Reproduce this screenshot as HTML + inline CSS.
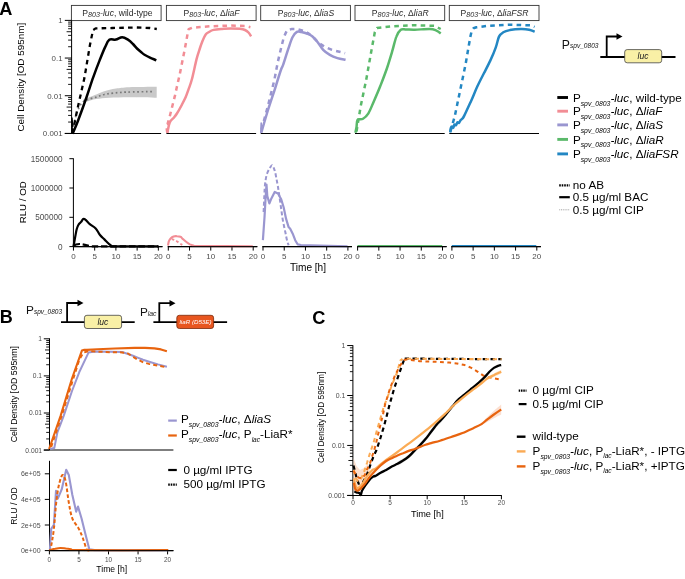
<!DOCTYPE html>
<html><head><meta charset="utf-8"><style>
html,body{margin:0;padding:0;background:#fff;width:685px;height:579px;overflow:hidden}
svg{display:block;font-family:"Liberation Sans", sans-serif;will-change:transform}
</style></head><body>
<svg width="685" height="579" viewBox="0 0 685 579">
<rect width="685" height="579" fill="#fff"/>
<text x="-0.7" y="14.8" font-size="18.2" fill="#000" text-anchor="start" font-weight="bold" font-style="normal">A</text>
<rect x="71.4" y="5.4" width="89.7" height="15.2" fill="#fff" stroke="#333" stroke-width="0.9"/>
<text x="117.5" y="16" font-size="8.6" fill="#2a2a2a" text-anchor="middle">P<tspan font-size="7.2" font-style="italic" dy="1.0">803</tspan><tspan font-style="italic" dy="-1.0">-luc</tspan>, wild-type</text>
<rect x="166.4" y="5.4" width="89.7" height="15.2" fill="#fff" stroke="#333" stroke-width="0.9"/>
<text x="211.6" y="16" font-size="8.6" fill="#2a2a2a" text-anchor="middle">P<tspan font-size="7.2" font-style="italic" dy="1.0">803</tspan><tspan font-style="italic" dy="-1.0">-luc</tspan>, &#916;<tspan font-style="italic">liaF</tspan></text>
<rect x="260.7" y="5.4" width="89.7" height="15.2" fill="#fff" stroke="#333" stroke-width="0.9"/>
<text x="305.9" y="16" font-size="8.6" fill="#2a2a2a" text-anchor="middle">P<tspan font-size="7.2" font-style="italic" dy="1.0">803</tspan><tspan font-style="italic" dy="-1.0">-luc</tspan>, &#916;<tspan font-style="italic">liaS</tspan></text>
<rect x="355.0" y="5.4" width="89.7" height="15.2" fill="#fff" stroke="#333" stroke-width="0.9"/>
<text x="400.2" y="16" font-size="8.6" fill="#2a2a2a" text-anchor="middle">P<tspan font-size="7.2" font-style="italic" dy="1.0">803</tspan><tspan font-style="italic" dy="-1.0">-luc</tspan>, &#916;<tspan font-style="italic">liaR</tspan></text>
<rect x="449.3" y="5.4" width="89.7" height="15.2" fill="#fff" stroke="#333" stroke-width="0.9"/>
<text x="494.5" y="16" font-size="8.6" fill="#2a2a2a" text-anchor="middle">P<tspan font-size="7.2" font-style="italic" dy="1.0">803</tspan><tspan font-style="italic" dy="-1.0">-luc</tspan>, &#916;<tspan font-style="italic">liaFSR</tspan></text>
<line x1="71.6" y1="20.6" x2="71.6" y2="133.5" stroke="#000" stroke-width="1.0" stroke-linecap="butt"/>
<line x1="64.8" y1="20.39" x2="71.6" y2="20.39" stroke="#000" stroke-width="1.0" stroke-linecap="butt"/>
<text x="62.6" y="23.19" font-size="7.9" fill="#4d4d4d" text-anchor="end" font-weight="normal" font-style="normal">1</text>
<line x1="64.8" y1="58.06" x2="71.6" y2="58.06" stroke="#000" stroke-width="1.0" stroke-linecap="butt"/>
<text x="62.6" y="60.86" font-size="7.9" fill="#4d4d4d" text-anchor="end" font-weight="normal" font-style="normal">0.1</text>
<line x1="64.8" y1="95.73" x2="71.6" y2="95.73" stroke="#000" stroke-width="1.0" stroke-linecap="butt"/>
<text x="62.6" y="98.53" font-size="7.9" fill="#4d4d4d" text-anchor="end" font-weight="normal" font-style="normal">0.01</text>
<line x1="64.8" y1="133.4" x2="71.6" y2="133.4" stroke="#000" stroke-width="1.0" stroke-linecap="butt"/>
<text x="62.6" y="136.20000000000002" font-size="7.9" fill="#4d4d4d" text-anchor="end" font-weight="normal" font-style="normal">0.001</text>
<line x1="68.1" y1="122.06020006333783" x2="71.6" y2="122.06020006333783" stroke="#000" stroke-width="0.9" stroke-linecap="butt"/>
<line x1="68.1" y1="115.42684233471032" x2="71.6" y2="115.42684233471032" stroke="#000" stroke-width="0.9" stroke-linecap="butt"/>
<line x1="68.1" y1="110.72040012667566" x2="71.6" y2="110.72040012667566" stroke="#000" stroke-width="0.9" stroke-linecap="butt"/>
<line x1="66.6" y1="107.06979993666218" x2="71.6" y2="107.06979993666218" stroke="#000" stroke-width="0.9" stroke-linecap="butt"/>
<line x1="68.1" y1="104.08704239804814" x2="71.6" y2="104.08704239804814" stroke="#000" stroke-width="0.9" stroke-linecap="butt"/>
<line x1="68.1" y1="101.56515683266295" x2="71.6" y2="101.56515683266295" stroke="#000" stroke-width="0.9" stroke-linecap="butt"/>
<line x1="68.1" y1="99.38060019001348" x2="71.6" y2="99.38060019001348" stroke="#000" stroke-width="0.9" stroke-linecap="butt"/>
<line x1="68.1" y1="97.45368466942064" x2="71.6" y2="97.45368466942064" stroke="#000" stroke-width="0.9" stroke-linecap="butt"/>
<line x1="68.1" y1="84.39020006333783" x2="71.6" y2="84.39020006333783" stroke="#000" stroke-width="0.9" stroke-linecap="butt"/>
<line x1="68.1" y1="77.75684233471031" x2="71.6" y2="77.75684233471031" stroke="#000" stroke-width="0.9" stroke-linecap="butt"/>
<line x1="68.1" y1="73.05040012667565" x2="71.6" y2="73.05040012667565" stroke="#000" stroke-width="0.9" stroke-linecap="butt"/>
<line x1="66.6" y1="69.39979993666218" x2="71.6" y2="69.39979993666218" stroke="#000" stroke-width="0.9" stroke-linecap="butt"/>
<line x1="68.1" y1="66.41704239804815" x2="71.6" y2="66.41704239804815" stroke="#000" stroke-width="0.9" stroke-linecap="butt"/>
<line x1="68.1" y1="63.89515683266295" x2="71.6" y2="63.89515683266295" stroke="#000" stroke-width="0.9" stroke-linecap="butt"/>
<line x1="68.1" y1="61.710600190013494" x2="71.6" y2="61.710600190013494" stroke="#000" stroke-width="0.9" stroke-linecap="butt"/>
<line x1="68.1" y1="59.78368466942064" x2="71.6" y2="59.78368466942064" stroke="#000" stroke-width="0.9" stroke-linecap="butt"/>
<line x1="68.1" y1="46.72020006333783" x2="71.6" y2="46.72020006333783" stroke="#000" stroke-width="0.9" stroke-linecap="butt"/>
<line x1="68.1" y1="40.08684233471031" x2="71.6" y2="40.08684233471031" stroke="#000" stroke-width="0.9" stroke-linecap="butt"/>
<line x1="68.1" y1="35.38040012667565" x2="71.6" y2="35.38040012667565" stroke="#000" stroke-width="0.9" stroke-linecap="butt"/>
<line x1="66.6" y1="31.729799936662175" x2="71.6" y2="31.729799936662175" stroke="#000" stroke-width="0.9" stroke-linecap="butt"/>
<line x1="68.1" y1="28.747042398048137" x2="71.6" y2="28.747042398048137" stroke="#000" stroke-width="0.9" stroke-linecap="butt"/>
<line x1="68.1" y1="26.225156832662947" x2="71.6" y2="26.225156832662947" stroke="#000" stroke-width="0.9" stroke-linecap="butt"/>
<line x1="68.1" y1="24.04060019001348" x2="71.6" y2="24.04060019001348" stroke="#000" stroke-width="0.9" stroke-linecap="butt"/>
<line x1="68.1" y1="22.113684669420635" x2="71.6" y2="22.113684669420635" stroke="#000" stroke-width="0.9" stroke-linecap="butt"/>
<text x="0" y="0" font-size="9.9" fill="#000" text-anchor="middle" transform="translate(23.6,77.2) rotate(-90)">Cell Density [OD 595nm]</text>
<line x1="64.8" y1="133.5" x2="161.10000000000002" y2="133.5" stroke="#000" stroke-width="1.1" stroke-linecap="butt"/>
<line x1="166.4" y1="133.5" x2="256.1" y2="133.5" stroke="#000" stroke-width="1.1" stroke-linecap="butt"/>
<line x1="260.7" y1="133.5" x2="350.4" y2="133.5" stroke="#000" stroke-width="1.1" stroke-linecap="butt"/>
<line x1="355.0" y1="133.5" x2="444.7" y2="133.5" stroke="#000" stroke-width="1.1" stroke-linecap="butt"/>
<line x1="449.3" y1="133.5" x2="539.0" y2="133.5" stroke="#000" stroke-width="1.1" stroke-linecap="butt"/>
<path d="M83.1,99.7 C85.3,98.8 92.8,95.9 96.3,94.5 C99.8,93.0 100.9,92.2 104.2,91.2 C107.5,90.2 111.8,89.2 116.0,88.5 C120.2,87.9 122.3,87.5 129.1,87.2 C135.9,86.9 152.1,86.9 156.7,86.8 L156.7,97.7 C152.1,97.7 137.0,97.3 129.1,97.3 C121.2,97.3 114.9,97.5 109.4,97.7 C103.9,98.0 100.2,98.4 96.3,99.1 C92.3,99.7 88.0,101.4 85.8,101.7 C83.6,102.0 83.6,101.1 83.1,101.0 Z" fill="#c9c9c9" stroke="none"/>
<path d="M72.6,129.9 C73.1,128.0 74.4,121.4 75.3,118.1 C76.1,114.8 76.8,112.7 77.9,110.2 C79.0,107.7 80.3,104.7 81.8,103.0 C83.4,101.2 84.7,100.7 87.1,99.7 C89.5,98.7 93.4,98.0 96.3,97.1 C99.1,96.2 101.3,95.1 104.2,94.5 C107.0,93.8 109.6,93.5 113.4,93.1 C117.1,92.7 119.9,92.4 126.5,92.1 C133.1,91.8 148.4,91.7 152.8,91.6" fill="none" stroke="#7a7a7a" stroke-width="1.7" stroke-dasharray="1.7,2.6"/>
<path d="M72.4,133.3 L77.2,110.0 L84.5,77.6 L89.9,45.2 L93.0,30.1 L95.6,28.4 L112.5,28.0 L136.3,27.5 L150.0,28.0 L156.8,29.0" fill="none" stroke="#000" stroke-width="2.3" stroke-dasharray="4.6,4.2" stroke-linejoin="round"/>
<path d="M72.6,133.8 C73.5,131.6 75.7,126.9 78.0,120.8 C80.3,114.7 84.1,104.2 86.6,97.0 C89.1,89.8 90.9,83.7 93.1,77.6 C95.3,71.5 97.6,65.4 99.6,60.4 C101.6,55.4 103.4,50.8 105.0,47.4 C106.6,44.0 107.5,41.1 109.3,39.8 C111.1,38.5 113.6,40.0 115.8,39.6 C118.0,39.2 120.1,37.2 122.2,37.2 C124.3,37.2 126.5,38.8 128.3,39.9 C130.1,41.0 131.6,42.6 133.0,44.0 C134.4,45.4 135.7,47.2 137.0,48.5 C138.3,49.8 139.8,51.0 141.0,52.0 C142.2,53.0 143.0,53.8 144.5,54.7 C146.0,55.6 148.0,56.7 150.0,57.6 C152.0,58.5 155.2,59.8 156.3,60.3" fill="none" stroke="#000" stroke-width="2.5" stroke-linejoin="round"/>
<path d="M72.1,133.2 L71.9,118.0 L72.7,127.0" fill="none" stroke="#000" stroke-width="1.6" stroke-linejoin="round"/>
<path d="M167.3,132.8 L166.2,125.0 L167.5,124.0 L169.4,117.8 L172.6,105.0 L174.8,96.4 L176.9,86.8 L179.6,75.0 L182.0,63.0 L184.5,50.5 L186.5,40.0 L187.7,33.0 L188.7,29.2 L192.0,27.8 L197.9,27.2 L210.0,26.3 L230.7,25.5 L245.0,26.0 L250.4,27.2" fill="none" stroke="#f28d95" stroke-width="2.5" stroke-dasharray="4.6,4.2" stroke-linejoin="round"/>
<path d="M167.3,132.8 C167.6,131.6 168.4,127.3 168.9,125.3 C169.4,123.3 169.7,122.2 170.5,121.0 C171.3,119.8 172.6,119.0 173.7,117.8 C174.8,116.5 175.7,115.5 176.9,113.5 C178.2,111.5 179.8,108.7 181.2,106.0 C182.6,103.3 184.2,100.3 185.5,97.5 C186.8,94.7 187.6,91.9 188.7,88.9 C189.8,85.9 190.6,84.2 191.9,79.3 C193.2,74.4 195.2,64.6 196.5,59.4 C197.8,54.2 199.0,51.1 200.0,48.0 C201.0,44.9 201.6,43.2 202.5,41.0 C203.4,38.8 204.6,36.0 205.7,34.5 C206.8,33.0 207.7,32.8 209.0,32.0 C210.3,31.2 211.4,30.4 213.6,29.9 C215.8,29.4 219.2,29.2 222.0,29.0 C224.8,28.8 227.7,28.5 230.7,28.5 C233.7,28.5 237.6,28.6 240.0,28.8 C242.4,29.1 243.6,29.4 245.0,30.0 C246.4,30.6 247.5,31.4 248.5,32.5 C249.5,33.6 250.7,35.8 251.1,36.4" fill="none" stroke="#f28d95" stroke-width="2.5" stroke-linejoin="round"/>
<path d="M261.5,129.5 L268.0,105.7 L274.4,79.8 L277.7,62.5 L280.5,50.5 L283.8,37.3 L287.0,30.2 L291.4,29.1 L296.9,29.1 L303.5,30.8 L307.9,33.0 L313.3,37.3 L318.8,42.8 L324.3,46.6 L332.0,49.9 L340.7,52.1 L345.1,53.2" fill="none" stroke="#9a96d0" stroke-width="2.5" stroke-dasharray="4.6,4.2" stroke-linejoin="round"/>
<path d="M261.3,132.7 C262.4,128.9 265.8,117.0 268.0,110.0 C270.2,103.0 272.2,97.3 274.4,90.6 C276.5,83.9 279.4,74.3 280.9,70.0 C282.4,65.7 282.0,68.1 283.2,64.7 C284.4,61.3 286.6,54.0 288.1,49.4 C289.7,44.8 291.0,40.2 292.5,37.3 C294.0,34.4 295.4,32.8 296.9,31.9 C298.4,31.0 299.6,31.8 301.3,32.1 C303.0,32.4 305.0,32.8 306.8,33.5 C308.6,34.2 310.4,34.7 312.2,36.2 C314.0,37.7 315.9,40.0 317.7,42.3 C319.5,44.6 321.2,47.8 323.2,49.9 C325.2,52.0 327.4,53.5 329.8,54.9 C332.2,56.3 334.8,57.3 337.4,58.1 C340.0,58.9 344.2,59.5 345.6,59.8" fill="none" stroke="#9a96d0" stroke-width="2.5" stroke-linejoin="round"/>
<path d="M260.8,133.0 L261.2,123.0 L262.2,130.0" fill="none" stroke="#9a96d0" stroke-width="1.6" stroke-linejoin="round"/>
<path d="M356.5,131.6 L360.8,105.7 L366.2,79.8 L371.6,49.6 L374.8,32.3 L377.0,28.0 L393.2,26.2 L414.8,25.2 L434.2,25.8 L440.7,29.0" fill="none" stroke="#5ab96a" stroke-width="2.5" stroke-dasharray="4.6,4.2" stroke-linejoin="round"/>
<path d="M355.4,132.7 C355.6,131.8 356.1,129.4 356.5,127.3 C356.9,125.2 356.5,121.2 357.6,119.8 C358.7,118.4 361.2,119.8 363.0,118.7 C364.8,117.6 366.6,116.2 368.4,113.3 C370.2,110.4 371.8,105.9 373.8,101.4 C375.8,96.9 378.1,91.7 380.2,86.3 C382.3,80.9 384.7,74.8 386.7,69.0 C388.7,63.2 390.5,57.1 392.1,51.7 C393.7,46.3 394.9,40.3 396.4,36.6 C397.8,32.9 399.2,30.9 400.8,29.7 C402.4,28.5 403.9,29.5 406.2,29.5 C408.5,29.5 410.9,29.8 414.8,29.7 C418.8,29.6 426.3,28.9 429.9,29.0 C433.5,29.1 434.6,29.9 436.4,30.6 C438.2,31.3 440.0,32.9 440.7,33.4" fill="none" stroke="#5ab96a" stroke-width="2.5" stroke-linejoin="round"/>
<path d="M450.4,131.6 L454.7,116.5 L460.1,90.6 L465.5,64.7 L468.9,45.0 L470.5,36.0 L471.8,30.5 L473.5,28.2 L476.3,27.3 L488.2,25.8 L509.8,24.7 L531.4,25.4 L534.6,26.9" fill="none" stroke="#2387c3" stroke-width="2.5" stroke-dasharray="4.6,4.2" stroke-linejoin="round"/>
<path d="M450.2,132.5 C450.3,131.8 450.5,129.0 450.8,128.0 C451.1,127.0 451.6,126.5 452.0,126.5 C452.4,126.5 452.8,128.1 453.2,127.8 C453.6,127.5 454.0,124.9 454.5,124.5 C455.0,124.1 455.5,125.6 456.0,125.2 C456.5,124.8 457.0,122.7 457.5,122.3 C458.0,121.9 458.5,123.3 459.0,123.0 C459.5,122.7 459.9,121.0 460.5,120.2 C461.1,119.5 461.9,119.3 462.5,118.5 C463.1,117.7 463.0,118.2 464.4,115.4 C465.8,112.6 468.7,106.2 470.9,101.4 C473.1,96.6 475.2,91.0 477.4,86.3 C479.6,81.6 481.7,77.6 483.9,73.3 C486.1,69.0 488.4,64.7 490.4,60.4 C492.4,56.1 494.4,51.4 495.8,47.4 C497.2,43.4 497.8,39.1 499.0,36.6 C500.2,34.1 501.5,33.4 503.3,32.3 C505.1,31.2 506.9,30.7 509.8,30.1 C512.7,29.6 517.4,29.1 520.6,29.0 C523.8,28.9 526.9,29.2 529.2,29.7 C531.5,30.2 533.7,31.4 534.6,31.8" fill="none" stroke="#2387c3" stroke-width="2.5" stroke-linejoin="round"/>
<line x1="73.4" y1="158.3" x2="73.4" y2="246.6" stroke="#000" stroke-width="1.0" stroke-linecap="butt"/>
<line x1="69.4" y1="246.6" x2="73.4" y2="246.6" stroke="#000" stroke-width="1.0" stroke-linecap="butt"/>
<text x="62.6" y="249.5" font-size="8.2" fill="#4d4d4d" text-anchor="end" font-weight="normal" font-style="normal">0</text>
<line x1="69.4" y1="217.29999999999998" x2="73.4" y2="217.29999999999998" stroke="#000" stroke-width="1.0" stroke-linecap="butt"/>
<text x="62.6" y="220.2" font-size="8.2" fill="#4d4d4d" text-anchor="end" font-weight="normal" font-style="normal">500000</text>
<line x1="69.4" y1="188.0" x2="73.4" y2="188.0" stroke="#000" stroke-width="1.0" stroke-linecap="butt"/>
<text x="62.6" y="190.9" font-size="8.2" fill="#4d4d4d" text-anchor="end" font-weight="normal" font-style="normal">1000000</text>
<line x1="69.4" y1="158.7" x2="73.4" y2="158.7" stroke="#000" stroke-width="1.0" stroke-linecap="butt"/>
<text x="62.6" y="161.6" font-size="8.2" fill="#4d4d4d" text-anchor="end" font-weight="normal" font-style="normal">1500000</text>
<text x="0" y="0" font-size="9.7" fill="#000" text-anchor="middle" transform="translate(25.6,202.3) rotate(-90)">RLU / OD</text>
<line x1="72.95" y1="246.6" x2="162.45" y2="246.6" stroke="#000" stroke-width="1.1" stroke-linecap="butt"/>
<line x1="73.45" y1="246.6" x2="73.45" y2="250.6" stroke="#000" stroke-width="1.0" stroke-linecap="butt"/>
<text x="73.45" y="259.3" font-size="8.0" fill="#4d4d4d" text-anchor="middle" font-weight="normal" font-style="normal">0</text>
<line x1="94.67500000000001" y1="246.6" x2="94.67500000000001" y2="250.6" stroke="#000" stroke-width="1.0" stroke-linecap="butt"/>
<text x="94.67500000000001" y="259.3" font-size="8.0" fill="#4d4d4d" text-anchor="middle" font-weight="normal" font-style="normal">5</text>
<line x1="115.9" y1="246.6" x2="115.9" y2="250.6" stroke="#000" stroke-width="1.0" stroke-linecap="butt"/>
<text x="115.9" y="259.3" font-size="8.0" fill="#4d4d4d" text-anchor="middle" font-weight="normal" font-style="normal">10</text>
<line x1="137.125" y1="246.6" x2="137.125" y2="250.6" stroke="#000" stroke-width="1.0" stroke-linecap="butt"/>
<text x="137.125" y="259.3" font-size="8.0" fill="#4d4d4d" text-anchor="middle" font-weight="normal" font-style="normal">15</text>
<line x1="158.35000000000002" y1="246.6" x2="158.35000000000002" y2="250.6" stroke="#000" stroke-width="1.0" stroke-linecap="butt"/>
<text x="158.35000000000002" y="259.3" font-size="8.0" fill="#4d4d4d" text-anchor="middle" font-weight="normal" font-style="normal">20</text>
<line x1="167.8" y1="246.6" x2="257.3" y2="246.6" stroke="#000" stroke-width="1.1" stroke-linecap="butt"/>
<line x1="168.3" y1="246.6" x2="168.3" y2="250.6" stroke="#000" stroke-width="1.0" stroke-linecap="butt"/>
<text x="168.3" y="259.3" font-size="8.0" fill="#4d4d4d" text-anchor="middle" font-weight="normal" font-style="normal">0</text>
<line x1="189.525" y1="246.6" x2="189.525" y2="250.6" stroke="#000" stroke-width="1.0" stroke-linecap="butt"/>
<text x="189.525" y="259.3" font-size="8.0" fill="#4d4d4d" text-anchor="middle" font-weight="normal" font-style="normal">5</text>
<line x1="210.75" y1="246.6" x2="210.75" y2="250.6" stroke="#000" stroke-width="1.0" stroke-linecap="butt"/>
<text x="210.75" y="259.3" font-size="8.0" fill="#4d4d4d" text-anchor="middle" font-weight="normal" font-style="normal">10</text>
<line x1="231.97500000000002" y1="246.6" x2="231.97500000000002" y2="250.6" stroke="#000" stroke-width="1.0" stroke-linecap="butt"/>
<text x="231.97500000000002" y="259.3" font-size="8.0" fill="#4d4d4d" text-anchor="middle" font-weight="normal" font-style="normal">15</text>
<line x1="253.20000000000002" y1="246.6" x2="253.20000000000002" y2="250.6" stroke="#000" stroke-width="1.0" stroke-linecap="butt"/>
<text x="253.20000000000002" y="259.3" font-size="8.0" fill="#4d4d4d" text-anchor="middle" font-weight="normal" font-style="normal">20</text>
<line x1="262.5" y1="246.6" x2="352.0" y2="246.6" stroke="#000" stroke-width="1.1" stroke-linecap="butt"/>
<line x1="263.0" y1="246.6" x2="263.0" y2="250.6" stroke="#000" stroke-width="1.0" stroke-linecap="butt"/>
<text x="263.0" y="259.3" font-size="8.0" fill="#4d4d4d" text-anchor="middle" font-weight="normal" font-style="normal">0</text>
<line x1="284.225" y1="246.6" x2="284.225" y2="250.6" stroke="#000" stroke-width="1.0" stroke-linecap="butt"/>
<text x="284.225" y="259.3" font-size="8.0" fill="#4d4d4d" text-anchor="middle" font-weight="normal" font-style="normal">5</text>
<line x1="305.45" y1="246.6" x2="305.45" y2="250.6" stroke="#000" stroke-width="1.0" stroke-linecap="butt"/>
<text x="305.45" y="259.3" font-size="8.0" fill="#4d4d4d" text-anchor="middle" font-weight="normal" font-style="normal">10</text>
<line x1="326.675" y1="246.6" x2="326.675" y2="250.6" stroke="#000" stroke-width="1.0" stroke-linecap="butt"/>
<text x="326.675" y="259.3" font-size="8.0" fill="#4d4d4d" text-anchor="middle" font-weight="normal" font-style="normal">15</text>
<line x1="347.9" y1="246.6" x2="347.9" y2="250.6" stroke="#000" stroke-width="1.0" stroke-linecap="butt"/>
<text x="347.9" y="259.3" font-size="8.0" fill="#4d4d4d" text-anchor="middle" font-weight="normal" font-style="normal">20</text>
<line x1="357.1" y1="246.6" x2="446.6" y2="246.6" stroke="#000" stroke-width="1.1" stroke-linecap="butt"/>
<line x1="357.6" y1="246.6" x2="357.6" y2="250.6" stroke="#000" stroke-width="1.0" stroke-linecap="butt"/>
<text x="357.6" y="259.3" font-size="8.0" fill="#4d4d4d" text-anchor="middle" font-weight="normal" font-style="normal">0</text>
<line x1="378.82500000000005" y1="246.6" x2="378.82500000000005" y2="250.6" stroke="#000" stroke-width="1.0" stroke-linecap="butt"/>
<text x="378.82500000000005" y="259.3" font-size="8.0" fill="#4d4d4d" text-anchor="middle" font-weight="normal" font-style="normal">5</text>
<line x1="400.05" y1="246.6" x2="400.05" y2="250.6" stroke="#000" stroke-width="1.0" stroke-linecap="butt"/>
<text x="400.05" y="259.3" font-size="8.0" fill="#4d4d4d" text-anchor="middle" font-weight="normal" font-style="normal">10</text>
<line x1="421.27500000000003" y1="246.6" x2="421.27500000000003" y2="250.6" stroke="#000" stroke-width="1.0" stroke-linecap="butt"/>
<text x="421.27500000000003" y="259.3" font-size="8.0" fill="#4d4d4d" text-anchor="middle" font-weight="normal" font-style="normal">15</text>
<line x1="442.5" y1="246.6" x2="442.5" y2="250.6" stroke="#000" stroke-width="1.0" stroke-linecap="butt"/>
<text x="442.5" y="259.3" font-size="8.0" fill="#4d4d4d" text-anchor="middle" font-weight="normal" font-style="normal">20</text>
<line x1="451.4" y1="246.6" x2="540.9" y2="246.6" stroke="#000" stroke-width="1.1" stroke-linecap="butt"/>
<line x1="451.9" y1="246.6" x2="451.9" y2="250.6" stroke="#000" stroke-width="1.0" stroke-linecap="butt"/>
<text x="451.9" y="259.3" font-size="8.0" fill="#4d4d4d" text-anchor="middle" font-weight="normal" font-style="normal">0</text>
<line x1="473.125" y1="246.6" x2="473.125" y2="250.6" stroke="#000" stroke-width="1.0" stroke-linecap="butt"/>
<text x="473.125" y="259.3" font-size="8.0" fill="#4d4d4d" text-anchor="middle" font-weight="normal" font-style="normal">5</text>
<line x1="494.34999999999997" y1="246.6" x2="494.34999999999997" y2="250.6" stroke="#000" stroke-width="1.0" stroke-linecap="butt"/>
<text x="494.34999999999997" y="259.3" font-size="8.0" fill="#4d4d4d" text-anchor="middle" font-weight="normal" font-style="normal">10</text>
<line x1="515.5749999999999" y1="246.6" x2="515.5749999999999" y2="250.6" stroke="#000" stroke-width="1.0" stroke-linecap="butt"/>
<text x="515.5749999999999" y="259.3" font-size="8.0" fill="#4d4d4d" text-anchor="middle" font-weight="normal" font-style="normal">15</text>
<line x1="536.8" y1="246.6" x2="536.8" y2="250.6" stroke="#000" stroke-width="1.0" stroke-linecap="butt"/>
<text x="536.8" y="259.3" font-size="8.0" fill="#4d4d4d" text-anchor="middle" font-weight="normal" font-style="normal">20</text>
<text x="308" y="270.8" font-size="10.1" fill="#000" text-anchor="middle" font-weight="normal" font-style="normal">Time [h]</text>
<path d="M73.5,246.4 C73.7,245.5 74.0,243.8 74.5,240.9 C75.0,238.0 76.0,232.0 76.7,229.2 C77.4,226.4 78.2,225.3 78.9,224.1 C79.6,222.9 80.4,222.8 81.1,221.9 C81.8,221.1 82.5,219.4 83.2,219.0 C83.9,218.6 84.3,218.8 85.4,219.7 C86.5,220.5 88.1,222.6 89.8,224.1 C91.5,225.6 94.0,226.7 95.7,228.5 C97.4,230.3 98.5,233.2 100.0,235.0 C101.5,236.8 102.9,237.9 104.4,239.4 C105.9,240.9 107.6,242.7 108.8,243.8 C110.0,244.9 110.7,245.6 111.7,246.0 C112.7,246.4 107.2,246.3 115.0,246.4 C122.8,246.5 151.2,246.4 158.4,246.4" fill="none" stroke="#000" stroke-width="2.2" stroke-linejoin="round"/>
<path d="M74.0,246.0 C74.3,245.8 75.0,244.8 76.0,244.5 C77.0,244.2 78.5,243.9 80.0,244.0 C81.5,244.1 83.3,244.5 85.0,244.8 C86.7,245.1 87.5,245.7 90.0,246.0 C92.5,246.3 88.6,246.3 100.0,246.4 C111.4,246.5 148.7,246.4 158.4,246.4" fill="none" stroke="#000" stroke-width="2.2" stroke-dasharray="6.5,2.8" stroke-linejoin="round"/>
<path d="M168.0,245.5 C168.1,244.8 168.4,242.6 168.8,241.4 C169.3,240.3 169.8,239.3 170.6,238.5 C171.4,237.7 172.4,236.9 173.5,236.5 C174.6,236.1 175.8,236.1 177.0,236.2 C178.2,236.2 179.5,236.3 180.5,236.8 C181.5,237.2 181.9,238.2 182.9,239.1 C183.8,240.0 185.2,241.1 186.4,242.0 C187.5,242.9 188.7,243.8 189.9,244.4 C191.0,244.9 192.0,245.2 193.4,245.5 C194.7,245.8 188.1,245.9 198.0,246.0 C207.9,246.1 243.7,246.2 252.8,246.2" fill="none" stroke="#f28d95" stroke-width="2.1" stroke-linejoin="round"/>
<path d="M171.8,239.1 C172.4,239.3 174.1,239.8 175.6,240.6 C177.0,241.3 179.4,243.0 180.5,243.8 C181.6,244.5 182.0,244.7 182.3,244.9" fill="none" stroke="#f28d95" stroke-width="1.9" stroke-dasharray="2.6,2.2" stroke-linejoin="round"/>
<path d="M262.9,240.2 L264.5,217.3 L265.7,196.0 L266.5,184.5 L267.3,196.0 L269.4,203.4 L271.4,198.4 L274.7,191.9 L278.0,193.5 L281.2,199.3 L283.7,207.5 L286.1,218.9 L288.6,227.1 L290.2,228.8 L292.7,233.7 L295.2,240.2 L297.6,244.3 L300.9,245.0 L347.5,246.4" fill="none" stroke="#9a96d0" stroke-width="2.2" stroke-linejoin="round"/>
<path d="M263.6,212.0 C263.8,208.3 264.3,195.4 264.6,190.0 C264.9,184.6 265.2,182.4 265.7,179.6 C266.1,176.8 266.6,174.9 267.3,173.0 C268.0,171.1 268.9,169.4 269.8,168.1 C270.6,166.8 271.4,164.8 272.2,165.2 C273.0,165.6 274.0,168.4 274.7,170.6 C275.4,172.7 275.8,175.2 276.3,178.0 C276.9,180.7 277.4,183.7 278.0,187.0 C278.5,190.2 279.0,193.9 279.6,197.6 C280.1,201.3 280.7,205.3 281.2,209.1 C281.8,212.9 282.2,216.7 282.9,220.6 C283.6,224.4 284.6,228.8 285.3,232.0 C286.0,235.3 286.4,238.1 287.0,240.2 C287.5,242.4 288.3,244.3 288.6,245.2" fill="none" stroke="#9a96d0" stroke-width="2.0" stroke-dasharray="4,2.4" stroke-linejoin="round"/>
<path d="M357.5,246.1 L442.2,246.1" fill="none" stroke="#5ab96a" stroke-width="2.0" stroke-linejoin="round"/>
<path d="M451.8,246.1 L536.3,246.1" fill="none" stroke="#2387c3" stroke-width="2.0" stroke-linejoin="round"/>
<text x="561.8" y="48.6" font-size="12.2" fill="#111" text-anchor="start" font-weight="normal" font-style="normal">P<tspan font-size="6.6" font-style="italic" dy="-0.2">spv_0803</tspan></text>
<line x1="600.3" y1="57" x2="675.5" y2="57" stroke="#000" stroke-width="1.8" stroke-linecap="butt"/>
<path d="M606.7,57.8 L606.7,36.5 L617.5,36.5" fill="none" stroke="#000" stroke-width="1.8"/>
<path d="M616.5,33.3 L622.5,36.5 L616.5,39.7 Z" fill="#000"/>
<rect x="624.7" y="49.6" width="37" height="13.2" rx="2.5" fill="#f9f0a6" stroke="#444" stroke-width="0.8"/>
<text x="643.0" y="59.2" font-size="8.6" fill="#222" text-anchor="middle" font-weight="normal" font-style="italic">luc</text>
<line x1="557.3" y1="97.5" x2="568.0" y2="97.5" stroke="#000" stroke-width="2.9" stroke-linecap="butt"/>
<text x="572.9" y="101.7" font-size="11.7" fill="#000">P<tspan font-size="6.85" font-style="italic" dy="3.8">spv_0803</tspan><tspan font-style="italic" dy="-3.8">-luc</tspan>, wild-type</text>
<line x1="557.3" y1="111.2" x2="568.0" y2="111.2" stroke="#f28d95" stroke-width="2.9" stroke-linecap="butt"/>
<text x="572.9" y="115.4" font-size="11.7" fill="#000">P<tspan font-size="6.85" font-style="italic" dy="3.8">spv_0803</tspan><tspan font-style="italic" dy="-3.8">-luc</tspan>, &#916;<tspan font-style="italic">liaF</tspan></text>
<line x1="557.3" y1="124.9" x2="568.0" y2="124.9" stroke="#9a96d0" stroke-width="2.9" stroke-linecap="butt"/>
<text x="572.9" y="129.1" font-size="11.7" fill="#000">P<tspan font-size="6.85" font-style="italic" dy="3.8">spv_0803</tspan><tspan font-style="italic" dy="-3.8">-luc</tspan>, &#916;<tspan font-style="italic">liaS</tspan></text>
<line x1="557.3" y1="139.4" x2="568.0" y2="139.4" stroke="#5ab96a" stroke-width="2.9" stroke-linecap="butt"/>
<text x="572.9" y="143.6" font-size="11.7" fill="#000">P<tspan font-size="6.85" font-style="italic" dy="3.8">spv_0803</tspan><tspan font-style="italic" dy="-3.8">-luc</tspan>, &#916;<tspan font-style="italic">liaR</tspan></text>
<line x1="557.3" y1="153.9" x2="568.0" y2="153.9" stroke="#2387c3" stroke-width="2.9" stroke-linecap="butt"/>
<text x="572.9" y="158.1" font-size="11.7" fill="#000">P<tspan font-size="6.85" font-style="italic" dy="3.8">spv_0803</tspan><tspan font-style="italic" dy="-3.8">-luc</tspan>, &#916;<tspan font-style="italic">liaFSR</tspan></text>
<line x1="559.2" y1="185.4" x2="569.8" y2="185.4" stroke="#000" stroke-width="2.2" stroke-dasharray="1.6,0.9" stroke-linecap="butt"/>
<text x="572.8" y="189.2" font-size="11.7" fill="#000" text-anchor="start" font-weight="normal" font-style="normal">no AB</text>
<line x1="559.2" y1="197.2" x2="569.8" y2="197.2" stroke="#000" stroke-width="2.2" stroke-linecap="butt"/>
<text x="572.8" y="201.0" font-size="11.7" fill="#000" text-anchor="start" font-weight="normal" font-style="normal">0.5 &#181;g/ml BAC</text>
<line x1="559.2" y1="209.8" x2="569.8" y2="209.8" stroke="#999" stroke-width="0.9" stroke-dasharray="1,0.8" stroke-linecap="butt"/>
<text x="572.8" y="213.6" font-size="11.7" fill="#000" text-anchor="start" font-weight="normal" font-style="normal">0.5 &#181;g/ml CIP</text>
<text x="-0.3" y="322.8" font-size="18.0" fill="#000" text-anchor="start" font-weight="bold" font-style="normal">B</text>
<text x="26.0" y="314.0" font-size="11.8" fill="#111" text-anchor="start" font-weight="normal" font-style="normal">P<tspan font-size="6.5" font-style="italic" dy="0">spv_0803</tspan></text>
<line x1="61" y1="322.2" x2="134.7" y2="322.2" stroke="#000" stroke-width="1.8" stroke-linecap="butt"/>
<path d="M67.1,323 L67.1,303 L78.5,303" fill="none" stroke="#000" stroke-width="1.8"/>
<path d="M77.5,299.8 L83.5,303 L77.5,306.2 Z" fill="#000"/>
<rect x="84.4" y="315.3" width="37.2" height="13.2" rx="2.5" fill="#f9f0a6" stroke="#444" stroke-width="0.8"/>
<text x="102.9" y="325.0" font-size="8.6" fill="#222" text-anchor="middle" font-weight="normal" font-style="italic">luc</text>
<text x="139.9" y="315.8" font-size="11.8" fill="#111" text-anchor="start" font-weight="normal" font-style="normal">P<tspan font-size="6.8" font-style="italic">lac</tspan></text>
<line x1="153.4" y1="322.2" x2="227.1" y2="322.2" stroke="#000" stroke-width="1.8" stroke-linecap="butt"/>
<path d="M159.3,323 L159.3,303.2 L170.5,303.2" fill="none" stroke="#000" stroke-width="1.8"/>
<path d="M169.5,300 L175.5,303.2 L169.5,306.4 Z" fill="#000"/>
<rect x="176.8" y="315.3" width="36.8" height="13.2" rx="2.5" fill="#e8561f" stroke="#7a2a0a" stroke-width="0.8"/>
<text x="195.5" y="324.0" font-size="6.2" fill="#fff" text-anchor="middle" font-weight="normal" font-style="italic">liaR (D53E)</text>
<line x1="49.5" y1="338.3" x2="49.5" y2="450" stroke="#000" stroke-width="1.0" stroke-linecap="butt"/>
<line x1="43.8" y1="338.8" x2="49.5" y2="338.8" stroke="#000" stroke-width="1.0" stroke-linecap="butt"/>
<text x="42.1" y="341.2" font-size="6.7" fill="#4d4d4d" text-anchor="end" font-weight="normal" font-style="normal">1</text>
<line x1="43.8" y1="375.90000000000003" x2="49.5" y2="375.90000000000003" stroke="#000" stroke-width="1.0" stroke-linecap="butt"/>
<text x="42.1" y="378.3" font-size="6.7" fill="#4d4d4d" text-anchor="end" font-weight="normal" font-style="normal">0.1</text>
<line x1="43.8" y1="413.0" x2="49.5" y2="413.0" stroke="#000" stroke-width="1.0" stroke-linecap="butt"/>
<text x="42.1" y="415.4" font-size="6.7" fill="#4d4d4d" text-anchor="end" font-weight="normal" font-style="normal">0.01</text>
<line x1="43.8" y1="450.1" x2="49.5" y2="450.1" stroke="#000" stroke-width="1.0" stroke-linecap="butt"/>
<text x="42.1" y="452.5" font-size="6.7" fill="#4d4d4d" text-anchor="end" font-weight="normal" font-style="normal">0.001</text>
<line x1="46.2" y1="438.9317871608663" x2="49.5" y2="438.9317871608663" stroke="#000" stroke-width="0.9" stroke-linecap="butt"/>
<line x1="46.2" y1="432.39880144990053" x2="49.5" y2="432.39880144990053" stroke="#000" stroke-width="0.9" stroke-linecap="butt"/>
<line x1="46.2" y1="427.7635743217326" x2="49.5" y2="427.7635743217326" stroke="#000" stroke-width="0.9" stroke-linecap="butt"/>
<line x1="45.0" y1="424.16821283913373" x2="49.5" y2="424.16821283913373" stroke="#000" stroke-width="0.9" stroke-linecap="butt"/>
<line x1="46.2" y1="421.23058861076686" x2="49.5" y2="421.23058861076686" stroke="#000" stroke-width="0.9" stroke-linecap="butt"/>
<line x1="46.2" y1="418.7468627154711" x2="49.5" y2="418.7468627154711" stroke="#000" stroke-width="0.9" stroke-linecap="butt"/>
<line x1="46.2" y1="416.5953614825989" x2="49.5" y2="416.5953614825989" stroke="#000" stroke-width="0.9" stroke-linecap="butt"/>
<line x1="46.2" y1="414.6976028998011" x2="49.5" y2="414.6976028998011" stroke="#000" stroke-width="0.9" stroke-linecap="butt"/>
<line x1="46.2" y1="401.8317871608663" x2="49.5" y2="401.8317871608663" stroke="#000" stroke-width="0.9" stroke-linecap="butt"/>
<line x1="46.2" y1="395.29880144990057" x2="49.5" y2="395.29880144990057" stroke="#000" stroke-width="0.9" stroke-linecap="butt"/>
<line x1="46.2" y1="390.6635743217326" x2="49.5" y2="390.6635743217326" stroke="#000" stroke-width="0.9" stroke-linecap="butt"/>
<line x1="45.0" y1="387.0682128391337" x2="49.5" y2="387.0682128391337" stroke="#000" stroke-width="0.9" stroke-linecap="butt"/>
<line x1="46.2" y1="384.13058861076684" x2="49.5" y2="384.13058861076684" stroke="#000" stroke-width="0.9" stroke-linecap="butt"/>
<line x1="46.2" y1="381.6468627154711" x2="49.5" y2="381.6468627154711" stroke="#000" stroke-width="0.9" stroke-linecap="butt"/>
<line x1="46.2" y1="379.4953614825989" x2="49.5" y2="379.4953614825989" stroke="#000" stroke-width="0.9" stroke-linecap="butt"/>
<line x1="46.2" y1="377.5976028998011" x2="49.5" y2="377.5976028998011" stroke="#000" stroke-width="0.9" stroke-linecap="butt"/>
<line x1="46.2" y1="364.7317871608663" x2="49.5" y2="364.7317871608663" stroke="#000" stroke-width="0.9" stroke-linecap="butt"/>
<line x1="46.2" y1="358.19880144990054" x2="49.5" y2="358.19880144990054" stroke="#000" stroke-width="0.9" stroke-linecap="butt"/>
<line x1="46.2" y1="353.56357432173263" x2="49.5" y2="353.56357432173263" stroke="#000" stroke-width="0.9" stroke-linecap="butt"/>
<line x1="45.0" y1="349.96821283913374" x2="49.5" y2="349.96821283913374" stroke="#000" stroke-width="0.9" stroke-linecap="butt"/>
<line x1="46.2" y1="347.0305886107668" x2="49.5" y2="347.0305886107668" stroke="#000" stroke-width="0.9" stroke-linecap="butt"/>
<line x1="46.2" y1="344.5468627154711" x2="49.5" y2="344.5468627154711" stroke="#000" stroke-width="0.9" stroke-linecap="butt"/>
<line x1="46.2" y1="342.3953614825989" x2="49.5" y2="342.3953614825989" stroke="#000" stroke-width="0.9" stroke-linecap="butt"/>
<line x1="46.2" y1="340.49760289980105" x2="49.5" y2="340.49760289980105" stroke="#000" stroke-width="0.9" stroke-linecap="butt"/>
<line x1="43.8" y1="450" x2="173.4" y2="450" stroke="#000" stroke-width="1.1" stroke-linecap="butt"/>
<text x="0" y="0" font-size="8.75" fill="#000" text-anchor="middle" transform="translate(16.8,394.2) rotate(-90)">Cell Density [OD 595nm]</text>
<path d="M49.1,449.0 L60.6,415.9 L72.0,378.5 L81.9,350.6 L84.4,349.7 L87.0,349.9 L97.4,349.2 L115.0,348.5 L134.6,347.9 L145.0,347.9 L154.5,348.4 L161.0,349.4 L166.9,351.2" fill="none" stroke="#e8640f" stroke-width="2.1" stroke-linejoin="round"/>
<path d="M50.2,449.0 L54.3,448.0 L57.4,432.4 L63.7,415.9 L72.0,391.0 L79.2,372.3 L88.5,352.6 L94.8,351.6 L110.0,351.8 L122.0,352.0 L128.0,354.0 L133.0,355.8 L137.0,357.4 L143.0,359.8 L150.0,362.0 L158.0,364.4 L166.9,366.7" fill="none" stroke="#9a96d0" stroke-width="2.0" stroke-linejoin="round"/>
<path d="M51.2,447.0 L61.6,415.9 L72.0,382.7 L79.2,359.9 L83.4,352.6 L88.5,351.2 L110.0,352.2 L122.0,352.4 L127.2,353.0 L131.0,355.5 L135.9,358.6 L143.3,362.4 L149.0,363.9 L154.5,364.9 L166.3,367.3" fill="none" stroke="#e8640f" stroke-width="2.0" stroke-dasharray="4.1,3.1" stroke-linejoin="round"/>
<line x1="49.5" y1="460.8" x2="49.5" y2="550.6" stroke="#000" stroke-width="1.0" stroke-linecap="butt"/>
<line x1="44.8" y1="550.6" x2="49.5" y2="550.6" stroke="#000" stroke-width="1.0" stroke-linecap="butt"/>
<text x="40.6" y="553.1" font-size="7.0" fill="#4d4d4d" text-anchor="end" font-weight="normal" font-style="normal">0e+00</text>
<line x1="44.8" y1="525.0" x2="49.5" y2="525.0" stroke="#000" stroke-width="1.0" stroke-linecap="butt"/>
<text x="40.6" y="527.5" font-size="7.0" fill="#4d4d4d" text-anchor="end" font-weight="normal" font-style="normal">2e+05</text>
<line x1="44.8" y1="499.40000000000003" x2="49.5" y2="499.40000000000003" stroke="#000" stroke-width="1.0" stroke-linecap="butt"/>
<text x="40.6" y="501.90000000000003" font-size="7.0" fill="#4d4d4d" text-anchor="end" font-weight="normal" font-style="normal">4e+05</text>
<line x1="44.8" y1="473.8" x2="49.5" y2="473.8" stroke="#000" stroke-width="1.0" stroke-linecap="butt"/>
<text x="40.6" y="476.3" font-size="7.0" fill="#4d4d4d" text-anchor="end" font-weight="normal" font-style="normal">6e+05</text>
<line x1="49.5" y1="550.6" x2="173.4" y2="550.6" stroke="#000" stroke-width="1.1" stroke-linecap="butt"/>
<line x1="49.4" y1="550.6" x2="49.4" y2="554.4" stroke="#000" stroke-width="1.0" stroke-linecap="butt"/>
<text x="49.4" y="561.9" font-size="6.4" fill="#4d4d4d" text-anchor="middle" font-weight="normal" font-style="normal">0</text>
<line x1="78.95" y1="550.6" x2="78.95" y2="554.4" stroke="#000" stroke-width="1.0" stroke-linecap="butt"/>
<text x="78.95" y="561.9" font-size="6.4" fill="#4d4d4d" text-anchor="middle" font-weight="normal" font-style="normal">5</text>
<line x1="108.5" y1="550.6" x2="108.5" y2="554.4" stroke="#000" stroke-width="1.0" stroke-linecap="butt"/>
<text x="108.5" y="561.9" font-size="6.4" fill="#4d4d4d" text-anchor="middle" font-weight="normal" font-style="normal">10</text>
<line x1="138.05" y1="550.6" x2="138.05" y2="554.4" stroke="#000" stroke-width="1.0" stroke-linecap="butt"/>
<text x="138.05" y="561.9" font-size="6.4" fill="#4d4d4d" text-anchor="middle" font-weight="normal" font-style="normal">15</text>
<line x1="167.6" y1="550.6" x2="167.6" y2="554.4" stroke="#000" stroke-width="1.0" stroke-linecap="butt"/>
<text x="167.6" y="561.9" font-size="6.4" fill="#4d4d4d" text-anchor="middle" font-weight="normal" font-style="normal">20</text>
<text x="111.7" y="572.3" font-size="8.6" fill="#000" text-anchor="middle" font-weight="normal" font-style="normal">Time [h]</text>
<text x="0" y="0" font-size="8.6" fill="#000" text-anchor="middle" transform="translate(16.7,506) rotate(-90)">RLU / OD</text>
<path d="M49.9,549.8 L51.2,528.8 L53.9,524.9 L56.0,490.7 L57.8,498.6 L61.7,489.4 L66.2,469.7 L68.8,475.0 L72.3,494.7 L76.2,511.7 L78.0,506.5 L81.5,518.3 L85.4,534.1 L89.3,549.3 L94.6,550.1 L168.2,550.1" fill="none" stroke="#9a96d0" stroke-width="2.1" stroke-linejoin="round"/>
<path d="M51.2,545.9 C51.7,543.1 53.0,536.5 53.9,528.8 C54.7,521.2 55.6,507.4 56.5,499.9 C57.4,492.5 58.1,488.3 59.1,484.2 C60.1,480.0 61.4,475.4 62.5,475.0 C63.6,474.5 64.6,476.9 65.7,481.5 C66.7,486.1 67.7,496.4 68.8,502.5 C69.9,508.7 70.6,513.9 72.3,518.3 C73.9,522.7 77.1,525.5 78.8,528.8 C80.6,532.1 81.5,534.6 82.8,538.0 C84.1,541.4 85.6,547.3 86.7,549.3 C87.8,551.3 88.9,550.0 89.3,550.1" fill="none" stroke="#e8640f" stroke-width="2.0" stroke-dasharray="3.6,2.2" stroke-linejoin="round"/>
<path d="M49.4,550.1 C50.4,549.9 53.3,549.1 55.2,548.8 C57.0,548.4 58.7,548.0 60.4,548.0 C62.2,548.0 63.9,548.3 65.7,548.5 C67.4,548.7 68.8,549.1 70.9,549.3 C73.1,549.6 62.6,550.0 78.8,550.1 C95.0,550.2 153.3,550.1 168.2,550.1" fill="none" stroke="#e8640f" stroke-width="2.0" stroke-linejoin="round"/>
<line x1="168.2" y1="420.6" x2="176.8" y2="420.6" stroke="#9a96d0" stroke-width="2.2" stroke-linecap="butt"/>
<text x="181" y="423.4" font-size="11.7" fill="#000">P<tspan font-size="6.85" font-style="italic" dy="3.8">spv_0803</tspan><tspan font-style="italic" dy="-3.8">-luc</tspan>, &#916;<tspan font-style="italic">liaS</tspan></text>
<line x1="168.2" y1="435.5" x2="176.8" y2="435.5" stroke="#e8640f" stroke-width="2.2" stroke-linecap="butt"/>
<text x="181" y="438.3" font-size="11.7" fill="#000">P<tspan font-size="6.85" font-style="italic" dy="3.8">spv_0803</tspan><tspan font-style="italic" dy="-3.8">-luc</tspan>, P<tspan font-size="6.6" font-style="italic" dy="3.4">lac</tspan><tspan dy="-3.4">-LiaR*</tspan></text>
<line x1="168.2" y1="470.0" x2="176.8" y2="470.0" stroke="#000" stroke-width="2.2" stroke-linecap="butt"/>
<text x="183.4" y="473.6" font-size="11.7" fill="#000" text-anchor="start" font-weight="normal" font-style="normal">0 &#181;g/ml IPTG</text>
<line x1="168.2" y1="484.6" x2="176.8" y2="484.6" stroke="#000" stroke-width="2.2" stroke-dasharray="1.6,0.9" stroke-linecap="butt"/>
<text x="183.4" y="488.2" font-size="11.7" fill="#000" text-anchor="start" font-weight="normal" font-style="normal">500 &#181;g/ml IPTG</text>
<text x="312.3" y="324.3" font-size="18.2" fill="#000" text-anchor="start" font-weight="bold" font-style="normal">C</text>
<line x1="352.9" y1="345.2" x2="352.9" y2="495.5" stroke="#000" stroke-width="1.0" stroke-linecap="butt"/>
<line x1="347.2" y1="345.54999999999995" x2="352.9" y2="345.54999999999995" stroke="#000" stroke-width="1.0" stroke-linecap="butt"/>
<text x="345.4" y="347.94999999999993" font-size="6.9" fill="#4d4d4d" text-anchor="end" font-weight="normal" font-style="normal">1</text>
<line x1="347.2" y1="395.5" x2="352.9" y2="395.5" stroke="#000" stroke-width="1.0" stroke-linecap="butt"/>
<text x="345.4" y="397.9" font-size="6.9" fill="#4d4d4d" text-anchor="end" font-weight="normal" font-style="normal">0.1</text>
<line x1="347.2" y1="445.45" x2="352.9" y2="445.45" stroke="#000" stroke-width="1.0" stroke-linecap="butt"/>
<text x="345.4" y="447.84999999999997" font-size="6.9" fill="#4d4d4d" text-anchor="end" font-weight="normal" font-style="normal">0.01</text>
<line x1="347.2" y1="495.4" x2="352.9" y2="495.4" stroke="#000" stroke-width="1.0" stroke-linecap="butt"/>
<text x="345.4" y="497.79999999999995" font-size="6.9" fill="#4d4d4d" text-anchor="end" font-weight="normal" font-style="normal">0.001</text>
<line x1="349.9" y1="480.3635517165841" x2="352.9" y2="480.3635517165841" stroke="#000" stroke-width="0.9" stroke-linecap="butt"/>
<line x1="349.9" y1="471.56779332675285" x2="352.9" y2="471.56779332675285" stroke="#000" stroke-width="0.9" stroke-linecap="butt"/>
<line x1="349.9" y1="465.32710343316825" x2="352.9" y2="465.32710343316825" stroke="#000" stroke-width="0.9" stroke-linecap="butt"/>
<line x1="348.4" y1="460.4864482834158" x2="352.9" y2="460.4864482834158" stroke="#000" stroke-width="0.9" stroke-linecap="butt"/>
<line x1="349.9" y1="456.53134504333696" x2="352.9" y2="456.53134504333696" stroke="#000" stroke-width="0.9" stroke-linecap="butt"/>
<line x1="349.9" y1="453.18735290128785" x2="352.9" y2="453.18735290128785" stroke="#000" stroke-width="0.9" stroke-linecap="butt"/>
<line x1="349.9" y1="450.2906551497524" x2="352.9" y2="450.2906551497524" stroke="#000" stroke-width="0.9" stroke-linecap="butt"/>
<line x1="349.9" y1="447.7355866535057" x2="352.9" y2="447.7355866535057" stroke="#000" stroke-width="0.9" stroke-linecap="butt"/>
<line x1="349.9" y1="430.4135517165841" x2="352.9" y2="430.4135517165841" stroke="#000" stroke-width="0.9" stroke-linecap="butt"/>
<line x1="349.9" y1="421.6177933267528" x2="352.9" y2="421.6177933267528" stroke="#000" stroke-width="0.9" stroke-linecap="butt"/>
<line x1="349.9" y1="415.37710343316826" x2="352.9" y2="415.37710343316826" stroke="#000" stroke-width="0.9" stroke-linecap="butt"/>
<line x1="348.4" y1="410.53644828341584" x2="352.9" y2="410.53644828341584" stroke="#000" stroke-width="0.9" stroke-linecap="butt"/>
<line x1="349.9" y1="406.58134504333697" x2="352.9" y2="406.58134504333697" stroke="#000" stroke-width="0.9" stroke-linecap="butt"/>
<line x1="349.9" y1="403.23735290128786" x2="352.9" y2="403.23735290128786" stroke="#000" stroke-width="0.9" stroke-linecap="butt"/>
<line x1="349.9" y1="400.34065514975237" x2="352.9" y2="400.34065514975237" stroke="#000" stroke-width="0.9" stroke-linecap="butt"/>
<line x1="349.9" y1="397.7855866535057" x2="352.9" y2="397.7855866535057" stroke="#000" stroke-width="0.9" stroke-linecap="butt"/>
<line x1="349.9" y1="380.4635517165841" x2="352.9" y2="380.4635517165841" stroke="#000" stroke-width="0.9" stroke-linecap="butt"/>
<line x1="349.9" y1="371.6677933267528" x2="352.9" y2="371.6677933267528" stroke="#000" stroke-width="0.9" stroke-linecap="butt"/>
<line x1="349.9" y1="365.4271034331682" x2="352.9" y2="365.4271034331682" stroke="#000" stroke-width="0.9" stroke-linecap="butt"/>
<line x1="348.4" y1="360.58644828341585" x2="352.9" y2="360.58644828341585" stroke="#000" stroke-width="0.9" stroke-linecap="butt"/>
<line x1="349.9" y1="356.631345043337" x2="352.9" y2="356.631345043337" stroke="#000" stroke-width="0.9" stroke-linecap="butt"/>
<line x1="349.9" y1="353.2873529012878" x2="352.9" y2="353.2873529012878" stroke="#000" stroke-width="0.9" stroke-linecap="butt"/>
<line x1="349.9" y1="350.3906551497524" x2="352.9" y2="350.3906551497524" stroke="#000" stroke-width="0.9" stroke-linecap="butt"/>
<line x1="349.9" y1="347.8355866535057" x2="352.9" y2="347.8355866535057" stroke="#000" stroke-width="0.9" stroke-linecap="butt"/>
<line x1="347.2" y1="495.5" x2="501.8" y2="495.5" stroke="#000" stroke-width="1.1" stroke-linecap="butt"/>
<line x1="353.0" y1="495.5" x2="353.0" y2="499.3" stroke="#000" stroke-width="1.0" stroke-linecap="butt"/>
<text x="353.0" y="505.1" font-size="6.5" fill="#4d4d4d" text-anchor="middle" font-weight="normal" font-style="normal">0</text>
<line x1="390.1" y1="495.5" x2="390.1" y2="499.3" stroke="#000" stroke-width="1.0" stroke-linecap="butt"/>
<text x="390.1" y="505.1" font-size="6.5" fill="#4d4d4d" text-anchor="middle" font-weight="normal" font-style="normal">5</text>
<line x1="427.2" y1="495.5" x2="427.2" y2="499.3" stroke="#000" stroke-width="1.0" stroke-linecap="butt"/>
<text x="427.2" y="505.1" font-size="6.5" fill="#4d4d4d" text-anchor="middle" font-weight="normal" font-style="normal">10</text>
<line x1="464.3" y1="495.5" x2="464.3" y2="499.3" stroke="#000" stroke-width="1.0" stroke-linecap="butt"/>
<text x="464.3" y="505.1" font-size="6.5" fill="#4d4d4d" text-anchor="middle" font-weight="normal" font-style="normal">15</text>
<line x1="501.4" y1="495.5" x2="501.4" y2="499.3" stroke="#000" stroke-width="1.0" stroke-linecap="butt"/>
<text x="501.4" y="505.1" font-size="6.5" fill="#4d4d4d" text-anchor="middle" font-weight="normal" font-style="normal">20</text>
<text x="427.3" y="516.5" font-size="9.2" fill="#000" text-anchor="middle" font-weight="normal" font-style="normal">Time [h]</text>
<text x="0" y="0" font-size="8.3" fill="#000" text-anchor="middle" transform="translate(324.1,417.4) rotate(-90)">Cell Density [OD 595nm]</text>
<path d="M353.6,458 L356.5,466 L360,470 L364,468 L368,464 L370,470 L366,484 L361,490 L356,492.5 L353.6,491 Z" fill="#f8c6a6" fill-opacity="0.55"/>
<path d="M353.5,465.6 L354.8,470.7 L356.5,477.6 L358.6,483.7 L360.4,484.1 L363.0,482.0 L365.6,477.6 L368.1,471.6 L370.7,463.8 L373.3,456.9 L376.5,450.0 L380.6,437.5 L384.0,426.2 L386.5,416.7 L389.6,404.4 L394.1,388.7 L398.6,375.2 L402.5,364.0 L404.7,358.4" fill="none" stroke="#000" stroke-width="2.2" stroke-dasharray="4.3,3.5" stroke-linejoin="round"/>
<path d="M353.9,470.0 L355.5,478.0 L358.0,481.0 L361.0,479.0 L364.0,472.0 L367.0,463.0 L370.0,453.0 L373.5,443.0 L377.0,430.0 L380.5,418.0 L384.0,406.0 L387.3,397.7 L391.8,385.3 L396.9,373.0 L400.3,360.6 L402.5,358.9" fill="none" stroke="#fbab55" stroke-width="2.0" stroke-dasharray="4.3,3.5" stroke-linejoin="round"/>
<line x1="404.7" y1="358.6" x2="501.6" y2="359.2" stroke="#000" stroke-width="2.2" stroke-dasharray="4.3,3.5"/>
<line x1="404.7" y1="358.7" x2="501.6" y2="359.3" stroke="#fbab55" stroke-width="2.1" stroke-dasharray="4.3,3.5" stroke-dashoffset="5.6"/>
<path d="M353.5,470.7 L356.0,475.1 L358.6,477.6 L362.1,478.5 L364.7,475.1 L367.3,469.0 L369.9,463.8 L372.5,455.2 L374.2,450.0 L376.1,443.1 L379.5,428.5 L382.9,415.0 L385.1,404.4 L389.6,389.8 L394.6,376.3 L399.7,366.2 L403.6,360.1 L406.4,359.5 L419.9,361.2 L440.0,362.0 L449.0,362.6 L456.8,363.4 L464.7,365.1 L471.4,367.9 L477.0,371.3 L482.7,375.2 L487.1,376.9 L492.8,378.0 L501.2,379.7" fill="none" stroke="#e8640f" stroke-width="2.0" stroke-dasharray="3.8,3.5" stroke-linejoin="round"/>
<path d="M397.5,461.8 C398.4,461.2 401.2,459.7 403.1,458.5 C405.0,457.2 406.8,456.0 408.7,454.4 C410.6,452.8 412.4,450.6 414.3,448.8 C416.2,446.9 418.0,445.1 419.9,443.1 C421.8,441.1 423.6,439.1 425.5,436.9 C427.4,434.6 429.2,432.0 431.1,429.5 C433.0,427.1 435.1,424.2 436.7,422.2 C438.3,420.2 439.3,419.5 441.0,417.6 C442.7,415.8 445.8,412.1 446.7,411.0 L446.7,415.8 C445.8,416.9 442.7,420.5 441.0,422.4 C439.3,424.2 438.3,424.9 436.7,426.8 C435.1,428.8 433.0,431.6 431.1,434.1 C429.2,436.5 427.4,439.1 425.5,441.3 C423.6,443.6 421.8,445.5 419.9,447.5 C418.0,449.4 416.2,451.2 414.3,453.0 C412.4,454.9 410.6,457.0 408.7,458.6 C406.8,460.2 405.0,461.3 403.1,462.5 C401.2,463.7 398.4,465.3 397.5,465.8 Z" fill="#bdbdbd" fill-opacity="0.5"/>
<path d="M481.5,423.1 C482.4,422.1 485.0,419.3 487.1,417.3 C489.2,415.2 491.5,413.0 493.9,410.8 C496.2,408.7 500.0,405.6 501.2,404.5 L501.2,414.5 C500.0,415.1 496.2,416.9 493.9,418.2 C491.5,419.4 489.2,420.8 487.1,421.9 C485.0,423.1 482.4,424.6 481.5,425.1 Z" fill="#f6b89a" fill-opacity="0.45"/>
<path d="M466.9,393.5 C468.0,392.6 471.4,389.9 473.7,388.2 C475.9,386.4 478.2,384.8 480.4,382.9 C482.6,381.1 484.9,378.7 487.1,377.1 C489.4,375.5 491.5,374.7 493.9,373.4 C496.2,372.2 500.0,370.4 501.2,369.8 L501.2,373.8 C500.0,374.3 496.2,375.9 493.9,377.0 C491.5,378.0 489.4,378.7 487.1,380.1 C484.9,381.5 482.6,383.8 480.4,385.5 C478.2,387.2 475.9,388.6 473.7,390.2 C471.4,391.8 468.0,394.3 466.9,395.1 Z" fill="#fbd3a6" fill-opacity="0.5"/>
<path d="M354.3,491.5 C354.7,491.6 355.6,492.0 356.5,492.3 C357.3,492.6 358.8,492.8 359.5,493.2 C360.2,493.6 360.4,495.4 360.8,494.9 C361.2,494.5 361.4,492.0 362.1,490.6 C362.7,489.2 363.8,487.6 364.7,486.3 C365.6,485.0 366.3,484.1 367.3,482.8 C368.3,481.5 369.6,479.7 370.7,478.5 C371.9,477.4 373.5,476.3 374.2,475.9 C374.9,475.5 373.9,476.7 375.0,476.2 C376.1,475.7 378.7,473.8 380.6,472.8 C382.5,471.8 384.3,471.0 386.2,470.0 C388.1,469.0 389.9,467.6 391.8,466.6 C393.7,465.6 395.6,464.8 397.5,463.8 C399.4,462.8 401.2,461.7 403.1,460.5 C405.0,459.3 406.8,458.1 408.7,456.5 C410.6,454.9 412.4,452.8 414.3,450.9 C416.2,449.0 418.0,447.3 419.9,445.3 C421.8,443.3 423.6,441.4 425.5,439.1 C427.4,436.9 429.2,434.2 431.1,431.8 C433.0,429.4 435.1,426.5 436.7,424.5 C438.3,422.5 439.3,421.9 441.0,420.0 C442.7,418.1 444.8,415.6 446.7,413.4 C448.6,411.2 450.4,408.9 452.3,406.6 C454.2,404.4 455.9,401.9 458.0,399.9 C460.1,397.8 462.5,396.2 464.7,394.3 C466.9,392.4 469.1,390.6 471.4,388.7 C473.6,386.8 475.9,385.1 478.2,383.1 C480.4,381.1 483.0,378.8 484.9,376.9 C486.8,375.0 487.9,373.3 489.4,371.8 C490.9,370.3 492.4,368.9 493.9,367.9 C495.4,366.9 497.2,366.2 498.4,365.7 C499.6,365.2 500.7,365.2 501.2,365.1" fill="none" stroke="#000" stroke-width="2.3" stroke-linejoin="round"/>
<path d="M353.9,478.5 C354.1,479.5 354.7,483.0 355.2,484.6 C355.7,486.2 356.2,487.6 356.9,488.0 C357.6,488.4 358.5,488.0 359.5,487.1 C360.5,486.2 361.7,484.7 363.0,482.8 C364.3,480.9 365.7,478.0 367.3,475.9 C368.9,473.8 371.2,471.1 372.5,469.9 C373.8,468.7 373.6,469.8 375.0,468.9 C376.4,468.0 378.7,465.9 380.6,464.4 C382.5,462.9 383.4,462.0 386.2,459.9 C389.0,457.8 393.8,454.7 397.5,452.0 C401.2,449.3 405.0,446.4 408.7,443.6 C412.4,440.8 416.2,438.1 419.9,435.2 C423.6,432.3 427.8,429.0 431.1,426.2 C434.5,423.4 437.4,420.7 440.0,418.4 C442.6,416.1 444.4,414.4 446.7,412.3 C448.9,410.2 451.2,407.6 453.5,405.5 C455.8,403.4 458.0,401.8 460.2,399.9 C462.4,398.0 464.6,396.1 466.9,394.3 C469.1,392.5 471.4,390.9 473.7,389.2 C475.9,387.5 478.2,386.0 480.4,384.2 C482.6,382.4 484.9,380.1 487.1,378.6 C489.4,377.1 491.5,376.3 493.9,375.2 C496.2,374.1 500.0,372.4 501.2,371.8" fill="none" stroke="#fbab55" stroke-width="2.2" stroke-linejoin="round"/>
<path d="M353.9,482.8 C354.1,483.8 354.5,487.6 355.2,488.9 C355.9,490.2 356.8,490.8 357.8,490.6 C358.8,490.5 359.9,489.3 361.2,488.0 C362.5,486.7 364.2,484.7 365.6,482.8 C367.1,480.9 368.3,478.8 369.9,476.8 C371.5,474.9 373.2,473.0 375.0,471.1 C376.8,469.2 378.7,467.2 380.6,465.5 C382.5,463.8 384.3,462.2 386.2,461.0 C388.1,459.8 389.9,459.1 391.8,458.2 C393.7,457.3 395.6,456.2 397.5,455.4 C399.4,454.6 401.2,453.9 403.1,453.2 C405.0,452.4 406.8,451.6 408.7,450.9 C410.6,450.2 412.4,449.8 414.3,449.2 C416.2,448.6 418.0,447.8 419.9,447.0 C421.8,446.2 423.6,445.3 425.5,444.7 C427.4,444.1 428.7,443.8 431.1,443.1 C433.5,442.4 436.6,441.7 440.0,440.7 C443.4,439.7 447.4,438.3 451.2,437.0 C454.9,435.7 458.8,434.6 462.5,433.1 C466.2,431.6 470.5,429.5 473.7,428.0 C476.9,426.5 479.3,425.5 481.5,424.1 C483.7,422.7 485.0,421.2 487.1,419.6 C489.2,418.0 491.5,416.2 493.9,414.5 C496.2,412.8 500.0,410.3 501.2,409.5" fill="none" stroke="#e8640f" stroke-width="2.2" stroke-linejoin="round"/>
<line x1="518.7" y1="390.7" x2="526.5" y2="390.7" stroke="#000" stroke-width="2.2" stroke-dasharray="1.5,0.8" stroke-linecap="butt"/>
<text x="532.6" y="394.3" font-size="11.7" fill="#000" text-anchor="start" font-weight="normal" font-style="normal">0 &#181;g/ml CIP</text>
<line x1="518.7" y1="404.1" x2="526.5" y2="404.1" stroke="#000" stroke-width="2.2" stroke-linecap="butt"/>
<text x="532.6" y="407.7" font-size="11.7" fill="#000" text-anchor="start" font-weight="normal" font-style="normal">0.5 &#181;g/ml CIP</text>
<line x1="516.8" y1="436.7" x2="525.5" y2="436.7" stroke="#000" stroke-width="2.4" stroke-linecap="butt"/>
<text x="532.6" y="440.2" font-size="11.7" fill="#000" text-anchor="start" font-weight="normal" font-style="normal">wild-type</text>
<line x1="516.8" y1="451.4" x2="525.5" y2="451.4" stroke="#fbab55" stroke-width="2.4" stroke-linecap="butt"/>
<text x="532.6" y="454.8" font-size="11.7" fill="#000">P<tspan font-size="6.85" font-style="italic" dy="3.8">spv_0803</tspan><tspan font-style="italic" dy="-3.8">-luc</tspan>, P<tspan font-size="6.6" font-style="italic" dy="3.4">lac</tspan><tspan dy="-3.4">-LiaR*, - IPTG</tspan></text>
<line x1="516.8" y1="466.4" x2="525.5" y2="466.4" stroke="#e8640f" stroke-width="2.4" stroke-linecap="butt"/>
<text x="532.6" y="469.8" font-size="11.7" fill="#000">P<tspan font-size="6.85" font-style="italic" dy="3.8">spv_0803</tspan><tspan font-style="italic" dy="-3.8">-luc</tspan>, P<tspan font-size="6.6" font-style="italic" dy="3.4">lac</tspan><tspan dy="-3.4">-LiaR*, +IPTG</tspan></text>
<line x1="72.95" y1="246.6" x2="162.45" y2="246.6" stroke="#000" stroke-width="1.0" stroke-linecap="butt"/>
<line x1="167.8" y1="246.6" x2="257.3" y2="246.6" stroke="#000" stroke-width="1.0" stroke-linecap="butt"/>
<line x1="262.5" y1="246.6" x2="352.0" y2="246.6" stroke="#000" stroke-width="1.0" stroke-linecap="butt"/>
<line x1="357.1" y1="246.6" x2="446.6" y2="246.6" stroke="#000" stroke-width="1.0" stroke-linecap="butt"/>
<line x1="451.4" y1="246.6" x2="540.9" y2="246.6" stroke="#000" stroke-width="1.0" stroke-linecap="butt"/>
<line x1="49.5" y1="550.6" x2="173.4" y2="550.6" stroke="#000" stroke-width="1.0" stroke-linecap="butt"/>
</svg>
</body></html>
